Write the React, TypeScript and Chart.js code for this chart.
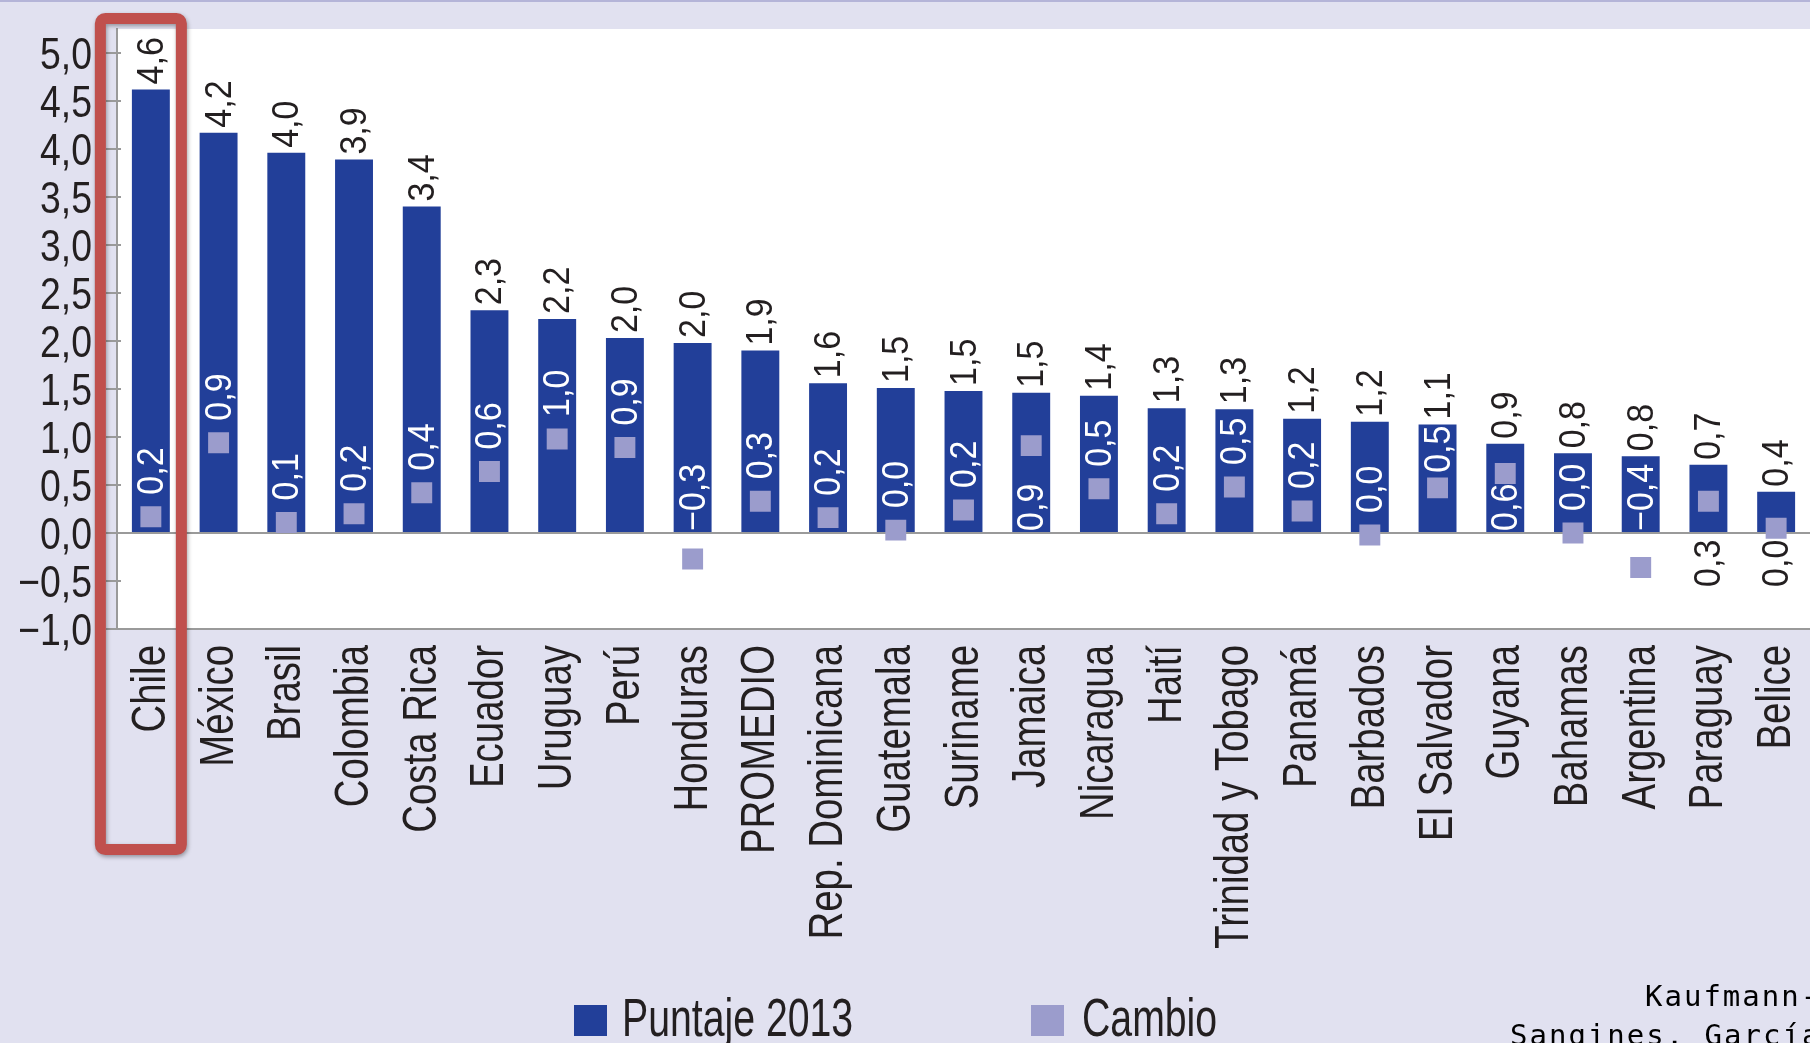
import React, { useEffect, useRef } from 'react';
import { Chart, registerables } from 'chart.js';

Chart.register(...registerables);

// ---------- data ----------
const categories = [
  'Chile', 'México', 'Brasil', 'Colombia', 'Costa Rica', 'Ecuador', 'Uruguay', 'Perú',
  'Honduras', 'PROMEDIO', 'Rep. Dominicana', 'Guatemala', 'Suriname', 'Jamaica',
  'Nicaragua', 'Haití', 'Trinidad y Tobago', 'Panamá', 'Barbados', 'El Salvador',
  'Guyana', 'Bahamas', 'Argentina', 'Paraguay', 'Belice',
];
const puntaje2013 = [
  4.62, 4.17, 3.96, 3.89, 3.40, 2.32, 2.23, 2.03, 1.98, 1.90, 1.56, 1.51, 1.48, 1.46,
  1.43, 1.30, 1.29, 1.19, 1.16, 1.13, 0.93, 0.83, 0.80, 0.71, 0.43,
];
const cambio = [
  0.17, 0.94, 0.11, 0.20, 0.42, 0.64, 0.98, 0.89, -0.27, 0.33, 0.16, 0.03, 0.24, 0.91,
  0.46, 0.20, 0.48, 0.23, -0.02, 0.47, 0.62, 0.0, -0.36, 0.33, 0.049,
];
const yTickValues = [-1, -0.5, 0, 0.5, 1, 1.5, 2, 2.5, 3, 3.5, 4, 4.5, 5];
const legendLabels = ['Puntaje 2013', 'Cambio'];
const sourceLines = ['Kaufmann-', 'Sangines, García'];
const highlighted = 'Chile';

// ---------- styles ----------
const BAR_COLOR = '#223f99';
const SQUARE_COLOR = '#9b9ccc';
const BG = '#e1e1f0';
const AXIS = '#9a9a9a';
const TEXT = '#231f20';
const RED = '#c0504d';
const FONT = '"Liberation Sans", Arial, sans-serif';

function fmt(v: number): string {
  const r = Math.round(v * 10) / 10;
  const s = Math.abs(r).toFixed(1).replace('.', ',');
  return r < 0 ? '\u2212' + s : s;
}

function rotText(
  ctx: CanvasRenderingContext2D, text: string, x: number, y: number,
  size: number, k: number, align: CanvasTextAlign, color: string, off: number,
) {
  ctx.save();
  ctx.translate(x, y);
  ctx.rotate(-Math.PI / 2);
  ctx.scale(k, 1);
  ctx.font = `${size}px ${FONT}`;
  ctx.fillStyle = color;
  ctx.textAlign = align;
  ctx.textBaseline = 'alphabetic';
  ctx.fillText(text, 0, off);
  ctx.restore();
}

function flatText(
  ctx: CanvasRenderingContext2D, text: string, x: number, y: number,
  size: number, k: number, align: CanvasTextAlign, color: string,
) {
  ctx.save();
  ctx.translate(x, y);
  ctx.scale(k, 1);
  ctx.font = `${size}px ${FONT}`;
  ctx.fillStyle = color;
  ctx.textAlign = align;
  ctx.textBaseline = 'alphabetic';
  ctx.fillText(text, 0, 0);
  ctx.restore();
}

const VAL_SIZE = 37;
const VAL_K = 0.92;

const decorPlugin = {
  id: 'decor',
  beforeDraw(chart: any) {
    const { ctx, chartArea: a, width, height } = chart;
    ctx.save();
    ctx.fillStyle = BG;
    ctx.fillRect(0, 0, width, height);
    ctx.fillStyle = '#b4b4d8';
    ctx.fillRect(0, 0, width, 2);
    ctx.fillStyle = '#ffffff';
    ctx.fillRect(a.left, a.top, a.right - a.left, a.bottom - a.top);
    ctx.restore();
  },
  afterDraw(chart: any) {
    const { ctx, chartArea: a } = chart;
    const xS = chart.scales.x;
    const yS = chart.scales.y;
    const zero = yS.getPixelForValue(0);

    // y tick marks and labels
    ctx.save();
    ctx.strokeStyle = AXIS;
    ctx.lineWidth = 2;
    yTickValues.forEach((v) => {
      const y = yS.getPixelForValue(v);
      ctx.beginPath();
      ctx.moveTo(a.left - 11, y);
      ctx.lineTo(a.left + 4, y);
      ctx.stroke();
      flatText(ctx, fmt(v), a.left - 25, y + 16, 44, 0.85, 'right', TEXT);
    });
    ctx.restore();

    // category labels
    categories.forEach((c, i) => {
      const cx = xS.getPixelForValue(i);
      rotText(ctx, c, cx, a.bottom + 16, 48, 0.8, 'right', TEXT, 14);
    });

    // value labels above bars
    puntaje2013.forEach((v, i) => {
      const cx = xS.getPixelForValue(i);
      const top = yS.getPixelForValue(v);
      rotText(ctx, fmt(v), cx, top - 5, VAL_SIZE, VAL_K, 'left', TEXT, 12);
    });

    // cambio labels
    const half = 10.5;
    cambio.forEach((v, i) => {
      const cx = xS.getPixelForValue(i);
      const sq = yS.getPixelForValue(v);
      const top = yS.getPixelForValue(puntaje2013[i]);
      const text = fmt(v);
      ctx.save();
      ctx.font = `${VAL_SIZE}px ${FONT}`;
      const len = ctx.measureText(text).width * VAL_K;
      ctx.restore();
      let start: number;
      let color = '#ffffff';
      const r = Math.round(v * 10) / 10;
      if (r < 0) start = zero - 2;
      else if (top + 1 + len <= sq - half + 3) start = Math.max(sq - 22, top + 1 + len);
      else if (zero - 2 - len >= sq + half - 6) start = zero - 2;
      else { start = zero + 54; color = TEXT; }
      rotText(ctx, text, cx, start, VAL_SIZE, VAL_K, 'left', color, 12);
    });

    // legend
    const legendX = [574, 1031];
    const legendColors = [BAR_COLOR, SQUARE_COLOR];
    legendLabels.forEach((t, i) => {
      ctx.save();
      ctx.fillStyle = legendColors[i];
      ctx.fillRect(legendX[i], 1005, 33, 31);
      ctx.restore();
      flatText(ctx, t, legendX[i] + 48 + i * 3, 1036, 53, 0.74, 'left', TEXT);
    });

    // source note (monospace)
    ctx.save();
    ctx.font = '29px "DejaVu Sans Mono", monospace';
    (ctx as any).letterSpacing = '2px';
    ctx.fillStyle = '#000000';
    ctx.textAlign = 'left';
    ctx.textBaseline = 'alphabetic';
    ctx.fillText(sourceLines[0], 1645, 1006);
    ctx.fillText(sourceLines[1], 1510, 1045);
    ctx.restore();

    // highlight box
    const hi = categories.indexOf(highlighted);
    if (hi >= 0) {
      const cx = xS.getPixelForValue(hi);
      const lw = 11;
      const left = cx - 56 + lw / 2;
      const right = cx + 36 - lw / 2;
      const top = 13 + lw / 2;
      const bottom = 855 - lw / 2;
      ctx.save();
      ctx.shadowColor = 'rgba(0,0,0,0.35)';
      ctx.shadowBlur = 4;
      ctx.shadowOffsetX = 1;
      ctx.shadowOffsetY = 2;
      ctx.strokeStyle = RED;
      ctx.lineWidth = lw;
      ctx.beginPath();
      (ctx as any).roundRect(left, top, right - left, bottom - top, 5);
      ctx.stroke();
      ctx.restore();
    }
  },
};

export default function App() {
  const ref = useRef<HTMLCanvasElement | null>(null);

  useEffect(() => {
    document.body.style.margin = '0';
    document.body.style.overflow = 'hidden';
    const canvas = ref.current;
    if (!canvas) return;
    const chart = new Chart(canvas, {
      type: 'bar',
      data: {
        labels: categories,
        datasets: [
          {
            type: 'line',
            label: legendLabels[1],
            data: cambio,
            showLine: false,
            pointStyle: 'rect',
            pointRadius: 14.8,
            pointHoverRadius: 14.8,
            pointBackgroundColor: SQUARE_COLOR,
            pointBorderWidth: 0,
            borderColor: SQUARE_COLOR,
            backgroundColor: SQUARE_COLOR,
            order: 0,
          } as any,
          {
            type: 'bar',
            label: legendLabels[0],
            data: puntaje2013,
            backgroundColor: BAR_COLOR,
            borderWidth: 0,
            barPercentage: 0.56,
            categoryPercentage: 1.0,
            order: 1,
          },
        ],
      },
      options: {
        responsive: false,
        animation: false,
        devicePixelRatio: 1,
        events: [],
        layout: { autoPadding: false, padding: { left: 117, right: 0, top: 29, bottom: 414 } },
        plugins: {
          legend: { display: false },
          tooltip: { enabled: false },
        },
        scales: {
          x: {
            type: 'category',
            offset: true,
            grid: { display: false, drawTicks: false },
            ticks: { display: false },
            border: { display: true, color: AXIS, width: 2 },
          },
          y: {
            min: -1,
            max: 5.25,
            afterBuildTicks: (s: any) => {
              s.ticks = yTickValues.map((v) => ({ value: v }));
            },
            grid: {
              drawTicks: false,
              lineWidth: 2,
              color: (c: any) => (c.tick && c.tick.value === 0 ? AXIS : 'rgba(0,0,0,0)'),
            },
            ticks: { display: false },
            border: { display: true, color: AXIS, width: 2 },
          },
        },
      },
      plugins: [decorPlugin],
    });
    return () => chart.destroy();
  }, []);

  return (
    <div style={{ width: 1810, height: 1043, overflow: 'hidden' }}>
      <canvas ref={ref} width={1810} height={1043} style={{ display: 'block' }} />
    </div>
  );
}
